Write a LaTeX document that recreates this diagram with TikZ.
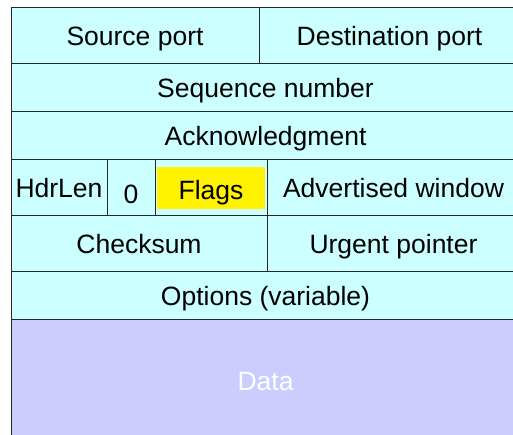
\documentclass[tikz,border=0pt]{standalone}
\usepackage{fontspec}
\setmainfont{Liberation Sans}
\definecolor{hdrcyan}{HTML}{CCFFFF}
\definecolor{datablue}{HTML}{CCCCFF}

\begin{document}
\begin{tikzpicture}[x=1pt, y=-1pt]
\tikzstyle{field}=[rectangle, draw=black!85, fill=hdrcyan, line width=1pt, inner sep=0pt, text height=21pt, text depth=0pt, font=\fontsize{26.5}{30}\selectfont];
\tikzstyle{payload}=[field, fill=datablue, text=white];
\tikzstyle{flagbox}=[rectangle, fill=yellow, inner sep=0pt, minimum width=108pt, minimum height=42pt, text height=23pt, text depth=0pt, font=\fontsize{26.5}{30}\selectfont];

\useasboundingbox (0,0) rectangle (513,434);
\clip (0,0) rectangle (513,434);

\node [field, minimum width=248pt, minimum height=56pt] at (135,35) (Source port) {Source port};
\node [field, minimum width=261pt, minimum height=56pt] at (389.5,35) (Destination port) {Destination port};

\node [field, minimum width=509pt, minimum height=48pt] at (265.5,87) (Sequence number) {Sequence number};
\node [field, minimum width=509pt, minimum height=48pt] at (265.5,135) (Acknowledgment) {Acknowledgment};

\node [field, minimum width=96pt, minimum height=56pt] at (59,187) (HdrLen) {HdrLen};
\node [field, minimum width=48pt, minimum height=56pt, text height=32.5pt] at (131,187) (Zero) {0};
\node [field, minimum width=112pt, minimum height=56pt] at (211,187) (Flag cell) {};
\node [flagbox] at (211,188) (Flags) {Flags};
\node [field, minimum width=253pt, minimum height=56pt] at (393.5,187) (Advertised window) {Advertised window};

\node [field, minimum width=256pt, minimum height=56pt] at (139,243) (Checksum) {Checksum};
\node [field, minimum width=253pt, minimum height=56pt] at (393.5,243) (Urgent pointer) {Urgent pointer};

\node [field, minimum width=509pt, minimum height=48pt] at (265.5,295) (Options) {Options (variable)};
\node [payload, minimum width=509pt, minimum height=122pt] at (265.5,380) (Data) {Data};

\end{tikzpicture}
\end{document}
